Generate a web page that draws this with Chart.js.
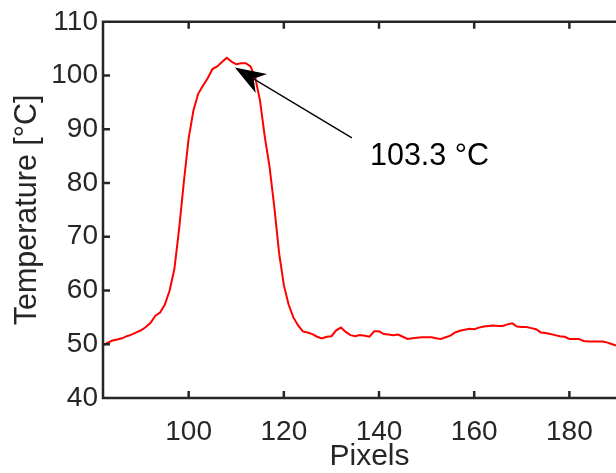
<!DOCTYPE html>
<html>
<head>
<meta charset="utf-8">
<script src="https://cdn.jsdelivr.net/npm/chart.js@4.4.1/dist/chart.umd.min.js"></script>
<style>
  html, body { margin: 0; padding: 0; background: #fff; overflow: hidden; }
  #wrap { position: relative; width: 660px; height: 473px; }
</style>
</head>
<body>
<div id="wrap"><canvas id="profileChart" width="660" height="473"></canvas></div>
<script>
// line profile across the hot spot
const pixels = [
  82, 83, 84, 85, 86, 87, 88, 89, 90, 91, 92, 93, 94, 95, 96, 97, 98, 99,
  100, 101, 102, 103, 104, 105, 106, 107, 108, 109, 110, 111, 112, 113, 114, 115, 116, 117, 118, 119,
  120, 121, 122, 123, 124, 125, 126, 127, 128, 129, 130, 131, 132, 133, 134, 135, 136, 137, 138, 139,
  140, 141, 142, 143, 144, 145, 146, 147, 148, 149, 150, 151, 152, 153, 154, 155, 156, 157, 158, 159,
  160, 161, 162, 163, 164, 165, 166, 167, 168, 169, 170, 171, 172, 173, 174, 175, 176, 177, 178, 179,
  180, 181, 182, 183, 184, 185, 186, 187, 188, 189, 190, 191, 192, 193, 194,
];
const temperatures = [
  49.8, 50.3, 50.7, 50.9, 51.1, 51.5, 51.8, 52.2, 52.6, 53.2, 54.0, 55.3, 55.9, 57.4, 60.0, 64.0, 71.5, 80.3,
  88.3, 93.5, 96.6, 98.1, 99.5, 101.2, 101.7, 102.5, 103.3, 102.6, 102.1, 102.3, 102.3, 101.7, 99.6, 95.3, 88.6, 83.0, 75.5, 67.0,
  61.0, 57.4, 55.0, 53.5, 52.4, 52.2, 51.9, 51.4, 51.1, 51.4, 51.5, 52.6, 53.1, 52.3, 51.7, 51.5, 51.7, 51.6, 51.4, 52.4,
  52.4, 51.9, 51.8, 51.7, 51.8, 51.4, 51.0, 51.1, 51.2, 51.3, 51.3, 51.3, 51.1, 51.0, 51.3, 51.6, 52.2, 52.5, 52.7, 52.9,
  52.8, 53.1, 53.3, 53.4, 53.5, 53.4, 53.4, 53.7, 53.9, 53.3, 53.2, 53.2, 53.0, 52.8, 52.2, 52.1, 51.9, 51.7, 51.5, 51.4,
  51.0, 51.0, 51.0, 50.6, 50.5, 50.5, 50.5, 50.5, 50.3, 50.0, 49.7, 49.5, 49.3, 49.2, 49.0,
];
const xTicks = [100, 120, 140, 160, 180];
const yTicks = [40, 50, 60, 70, 80, 90, 100, 110];

// arrow annotation, in data units
const peakLabel = '103.3 °C';
const arrowTip = { x: 109.7, y: 101.5 };
const arrowTail = { x: 134.3, y: 88.4 };
const labelAt = { x: 138.1, y: 85.0 };

const AXIS = '#262626';
const FONT = '"Liberation Sans", Arial, Helvetica, sans-serif';
const TICK = 7;

const axesBox = {
  id: 'axesBox',
  afterDatasetsDraw(chart) {
    const { ctx, chartArea: a, scales: { x, y } } = chart;
    ctx.save();
    ctx.strokeStyle = AXIS;
    ctx.lineWidth = 2.5;
    ctx.beginPath();
    ctx.rect(a.left, a.top, a.right - a.left, a.bottom - a.top);
    xTicks.forEach(v => {
      const px = x.getPixelForValue(v);
      ctx.moveTo(px, a.bottom); ctx.lineTo(px, a.bottom - TICK);
      ctx.moveTo(px, a.top); ctx.lineTo(px, a.top + TICK);
    });
    yTicks.forEach(v => {
      const py = y.getPixelForValue(v);
      ctx.moveTo(a.left, py); ctx.lineTo(a.left + TICK, py);
      ctx.moveTo(a.right, py); ctx.lineTo(a.right - TICK, py);
    });
    ctx.stroke();
    ctx.restore();
  },
};

const peakArrow = {
  id: 'peakArrow',
  afterDraw(chart) {
    const { ctx, scales: { x, y } } = chart;
    const tx = x.getPixelForValue(arrowTip.x), ty = y.getPixelForValue(arrowTip.y);
    const sx = x.getPixelForValue(arrowTail.x), sy = y.getPixelForValue(arrowTail.y);
    const len = Math.hypot(sx - tx, sy - ty);
    const ux = (sx - tx) / len, uy = (sy - ty) / len;
    const head = 31, half = 11, notch = 22;
    ctx.save();
    ctx.strokeStyle = '#000';
    ctx.fillStyle = '#000';
    ctx.lineWidth = 1.3;
    ctx.beginPath();
    ctx.moveTo(sx, sy);
    ctx.lineTo(tx + ux * notch, ty + uy * notch);
    ctx.stroke();
    ctx.beginPath();
    ctx.moveTo(tx, ty);
    ctx.lineTo(tx + ux * head - uy * half, ty + uy * head + ux * half);
    ctx.lineTo(tx + ux * notch, ty + uy * notch);
    ctx.lineTo(tx + ux * head + uy * half, ty + uy * head - ux * half);
    ctx.closePath();
    ctx.fill();
    ctx.font = '30.5px ' + FONT;
    ctx.textBaseline = 'middle';
    ctx.textAlign = 'left';
    ctx.fillText(peakLabel, x.getPixelForValue(labelAt.x), y.getPixelForValue(labelAt.y));
    ctx.restore();
  },
};

new Chart(document.getElementById('profileChart'), {
  type: 'line',
  data: {
    datasets: [{
      data: pixels.map((p, i) => ({ x: p, y: temperatures[i] })),
      borderColor: '#ff0000',
      borderWidth: 2,
      pointRadius: 0,
      tension: 0,
      fill: false,
    }],
  },
  options: {
    responsive: false,
    devicePixelRatio: 1,
    animation: false,
    layout: { padding: { top: 17, right: 24, left: 0, bottom: 0 } },
    plugins: { legend: { display: false }, tooltip: { enabled: false } },
    scales: {
      x: {
        type: 'linear',
        min: 82,
        max: 194,
        afterBuildTicks: s => { s.ticks = xTicks.map(v => ({ value: v })); },
        afterFit: s => { s.height = 75; },
        grid: { display: false, drawTicks: false },
        border: { display: false },
        ticks: { color: AXIS, font: { family: FONT, size: 28 }, padding: 17, maxRotation: 0 },
        title: { display: true, text: 'Pixels', color: AXIS, font: { family: FONT, size: 30 }, padding: { top: 0, bottom: -2 } },
      },
      y: {
        min: 40,
        max: 110,
        afterBuildTicks: s => { s.ticks = yTicks.map(v => ({ value: v })); },
        afterFit: s => { s.width = 103; },
        grid: { display: false, drawTicks: false },
        border: { display: false },
        ticks: { color: AXIS, font: { family: FONT, size: 28 }, padding: 5 },
        title: { display: true, text: 'Temperature [°C]', color: AXIS, font: { family: FONT, size: 30.5 }, padding: { top: 9, bottom: 0 } },
      },
    },
  },
  plugins: [axesBox, peakArrow],
});
</script>
</body>
</html>
